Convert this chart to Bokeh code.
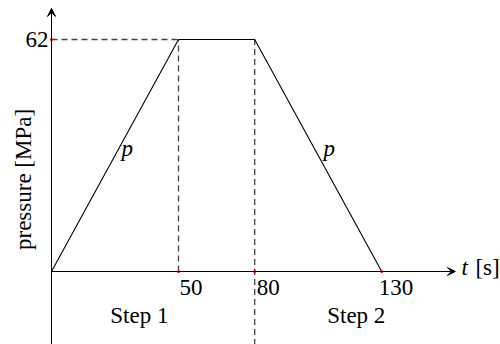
import math

from bokeh.core.properties import value
from bokeh.embed import file_html
from bokeh.models import Arrow, ColumnDataSource, Range1d, VeeHead
from bokeh.plotting import figure
from bokeh.resources import INLINE

# Pressure program: ramp up, hold, ramp down
time_s = [0, 50, 80, 130]
pressure_mpa = [0, 62, 62, 0]
peak_pressure = 62
tick_times = [50, 80, 130]
tick_labels = ["50", "80", "130"]
step_names = ["Step 1", "Step 2"]

FONT = value("serif")
FS = "23px"
LIFT = 8  # px, raises the text baseline

p = figure(
    width=500, height=344,
    x_range=Range1d(-20.08, 176.77), y_range=Range1d(-19.51, 72.42),
    x_axis_type=None, y_axis_type=None,
    output_backend="svg", toolbar_location=None,
    min_border=0, outline_line_color=None,
    background_fill_color="white", border_fill_color="white",
)

# Axes drawn as arrows through the origin
p.add_layout(Arrow(end=VeeHead(size=8, line_color="black", line_width=1, fill_color="black"),
                   x_start=0, y_start=0, x_end=159, y_end=0,
                   line_color="black", line_width=1))
p.add_layout(Arrow(end=VeeHead(size=8, line_color="black", line_width=1, fill_color="black"),
                   x_start=0, y_start=-25, x_end=0, y_end=70.3,
                   line_color="black", line_width=1))

# Guide lines at the plateau corners
dash = dict(line_color="#444444", line_width=1.3, line_dash="6 4")
p.line([0, time_s[1]], [peak_pressure, peak_pressure], **dash)
p.line([time_s[1], time_s[1]], [0, peak_pressure], **dash)
p.line([time_s[2], time_s[2]], [-25, peak_pressure], **dash)

# Pressure curve
p.line(time_s, pressure_mpa, line_color="black", line_width=1.1)

# Marked points
p.scatter([0] + tick_times, [peak_pressure, 0, 0, 0], size=3, color="red", line_color=None)

txt = dict(text_baseline="alphabetic", text_font=FONT, text_font_size=FS)

# Tick labels
p.text(x=[0], y=[peak_pressure], text=[str(peak_pressure)], x_offset=-3, y_offset=8 - LIFT,
       text_align="right", **txt)
tick_src = ColumnDataSource(dict(x=tick_times, y=[0] * len(tick_times), text=tick_labels,
                                 dx=[1, 2, -3]))
p.text(x="x", y="y", text="text", x_offset="dx", y_offset=24 - LIFT, source=tick_src,
       text_align="left", **txt)

# Step names under the ramps
p.text(x=[34.6, 120], y=[-13.9, -13.9], text=step_names, y_offset=-LIFT,
       text_align="center", **txt)

# Curve labels
p.text(x=[27.6, 107.1], y=[30.7, 30.7], text=["p", "p"], text_font_style="italic",
       y_offset=-LIFT, text_align="left", **txt)

# Axis titles
p.text(x=[161.4], y=[-1.07], text=["t"], text_font_style="italic", y_offset=-LIFT,
       text_align="left", **txt)
p.text(x=[166.9], y=[-1.07], text=["[s]"], y_offset=-LIFT, text_align="left", **txt)
p.text(x=[-7.9], y=[24.6], text=["pressure [MPa]"], angle=math.pi / 2, x_offset=-LIFT,
       text_align="center", **txt)

open("out.html", "w").write(file_html(p, INLINE))
